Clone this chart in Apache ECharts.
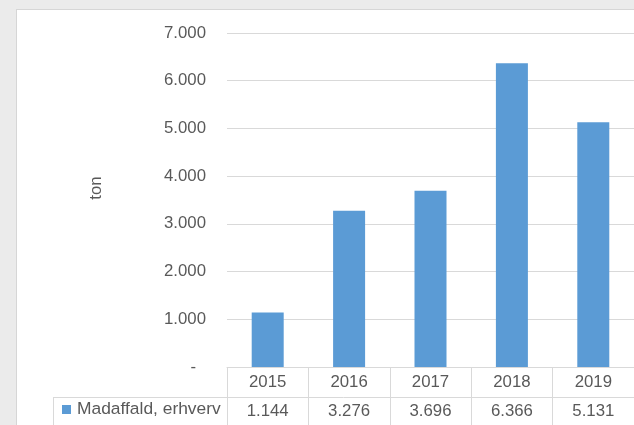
<!DOCTYPE html>
<html>
<head>
<meta charset="utf-8">
<script src="https://cdn.jsdelivr.net/npm/echarts@6/dist/echarts.min.js"></script>
<style>
  html, body { margin: 0; padding: 0; width: 634px; height: 425px; overflow: hidden; background: #ebebeb; }
  #panel { position: absolute; left: 16px; top: 9px; width: 640px; height: 440px; background: #ffffff; border: 1px solid #d6d6d6; box-sizing: border-box; }
  #chart { position: absolute; left: 0; top: 0; width: 634px; height: 425px; }
</style>
</head>
<body>
<div id="panel"></div>
<div id="chart"></div>
<script>
const categories = ['2015', '2016', '2017', '2018', '2019'];
const values = [1144, 3276, 3696, 6366, 5131];
const seriesName = 'Madaffald, erhverv';
const yTicks = [0, 1000, 2000, 3000, 4000, 5000, 6000, 7000];
const yAxisName = 'ton';

const FONT = "'Liberation Sans', Arial, sans-serif";
const TEXT = '#595959';
const LINE = '#d9d9d9';
const FS = 16.8;

function fmt(v) {
  return String(v).replace(/\B(?=(\d{3})+(?!\d))/g, '.');
}

const chart = echarts.init(document.getElementById('chart'), null, { renderer: 'canvas' });
chart.setOption({
  backgroundColor: 'transparent',
  animation: false,
  textStyle: { fontFamily: FONT },
  grid: { left: 227, right: 0, top: 33, bottom: 58, containLabel: false },
  legend: {
    data: [seriesName],
    left: 62, top: 401, padding: 0,
    icon: 'rect', itemWidth: 9, itemHeight: 9, itemGap: 6,
    textStyle: { color: TEXT, fontSize: 17.4, fontFamily: FONT, padding: [0, 0, 0, 1] }
  },
  xAxis: {
    type: 'category',
    data: categories,
    boundaryGap: true,
    axisLine: { show: true, lineStyle: { color: LINE, width: 1 } },
    axisTick: { show: true, length: 60, inside: false, lineStyle: { color: LINE, width: 1 } },
    axisLabel: {
      margin: 0,
      formatter: function (val, idx) {
        return '{y|' + val + '}\n{v|' + fmt(values[idx]) + '}';
      },
      rich: {
        y: { fontSize: FS, color: TEXT, lineHeight: 30, fontFamily: FONT },
        v: { fontSize: FS, color: TEXT, lineHeight: 29, fontFamily: FONT }
      }
    }
  },
  yAxis: {
    type: 'value',
    min: yTicks[0],
    max: yTicks[yTicks.length - 1],
    interval: yTicks[1] - yTicks[0],
    name: yAxisName,
    nameLocation: 'middle',
    nameGap: 122,
    nameRotate: 90,
    nameTextStyle: { color: TEXT, fontSize: FS, fontFamily: FONT, padding: [0, 0, 0, 24] },
    axisLine: { show: false },
    axisTick: { show: false },
    splitLine: { show: true, lineStyle: { color: LINE, width: 1 } },
    axisLabel: {
      margin: 21,
      color: TEXT,
      fontSize: FS,
      fontFamily: FONT,
      formatter: function (v) {
        return v === 0 ? '{z|-}' : fmt(v);
      },
      rich: {
        z: { fontSize: FS, color: TEXT, fontFamily: FONT, padding: [0, 10, 0, 0] }
      }
    }
  },
  series: [{
    name: seriesName,
    type: 'bar',
    data: values,
    barWidth: 32,
    itemStyle: { color: '#5b9bd5' }
  }],
  graphic: [
    { type: 'line', shape: { x1: 53, y1: 397.5, x2: 634, y2: 397.5 }, style: { stroke: LINE, lineWidth: 1 }, silent: true },
    { type: 'line', shape: { x1: 53.5, y1: 397, x2: 53.5, y2: 425 }, style: { stroke: LINE, lineWidth: 1 }, silent: true }
  ]
});
</script>
</body>
</html>
